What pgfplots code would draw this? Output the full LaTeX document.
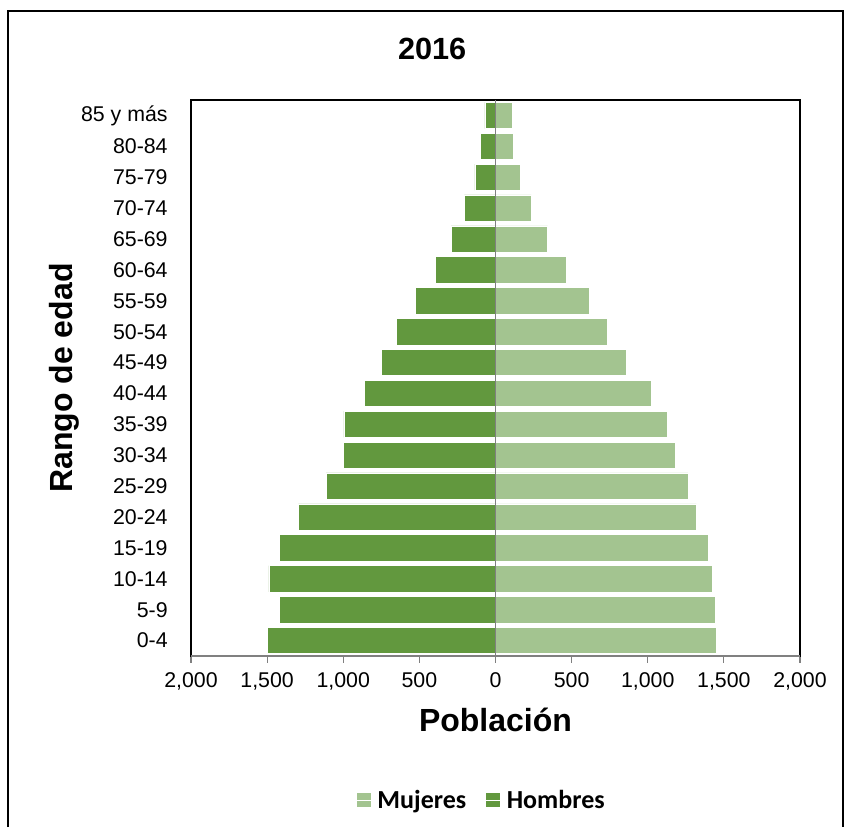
\documentclass[border=0pt]{standalone}
\usepackage{pgfplots}
\pgfplotsset{compat=1.18}
\usepackage{fontspec}
\setmainfont{Liberation Sans}
\newfontfamily\carlito{Carlito}
\definecolor{hom}{RGB}{98,152,62}
\definecolor{muj}{RGB}{163,196,144}
\begin{document}
\begin{tikzpicture}
\path (0pt,0pt) rectangle (633pt,-620.25pt);
\draw[black,line width=1.1pt] (6pt,-620.25pt) -- (6pt,-8.25pt) -- (632.25pt,-8.25pt) -- (632.25pt,-620.25pt);
\begin{axis}[
  at={(143.25pt,-492pt)}, anchor=south west,
  scale only axis, width=456.75pt, height=417pt,
  xmin=-2000, xmax=2000, ymin=-0.5, ymax=17.5,
  xbar, bar shift=0pt, bar width=0.85,
  axis line style={black,line width=1.1pt},
  xtick={-2000,-1500,...,2000},
  xtick pos=bottom, tick align=outside,
  major tick length=5pt,
  x tick style={gray,line width=0.8pt},
  ytick={0,...,17}, y tick style={draw=none},
  yticklabels={0-4,5-9,10-14,15-19,20-24,25-29,30-34,35-39,40-44,45-49,50-54,55-59,60-64,65-69,70-74,75-79,80-84,85 y más},
  /pgf/number format/assume math mode=true,
  xticklabel={\pgfmathparse{abs(\tick)}\pgfmathprintnumber[fixed,precision=0,1000 sep={,}]{\pgfmathresult}},
  ticklabel style={font=\fontsize{16}{18}\selectfont},
  xticklabel style={yshift=-4pt},
  yticklabel style={xshift=-9pt},
  xlabel={Población}, ylabel={Rango de edad},
  label style={font=\fontsize{24}{28}\selectfont\bfseries},
  xlabel style={at={(axis description cs:0.5,-0.115)},anchor=center},
  ylabel style={at={(axis description cs:-0.2085,0.5)},anchor=center},
  title={2016},
  title style={font=\fontsize{23}{27}\selectfont\bfseries,at={(axis description cs:0.396,1.077)},anchor=center},
  legend columns=2,
  legend style={draw=none,fill=none,at={(axis description cs:0.477,-0.259)},anchor=center,
    font=\fontsize{19.5}{22}\selectfont\carlito\bfseries,
    /tikz/every even column/.append style={column sep=12pt}},
  legend image code/.code={\fill[#1] (0pt,-5.6pt) rectangle (11.25pt,5.6pt);\path (0pt,0pt) -- (14pt,0pt);},
]
\addplot[fill=muj,draw=white,line width=0.4pt] coordinates {
(1452,0) (1444,1) (1422,2) (1399,3) (1319,4) (1264,5) (1179,6) (1126,7) (1023,8) (856,9) (731,10) (617,11) (466,12) (342,13) (236,14) (164,15) (117,16) (109,17)};
\addlegendentry{Mujeres}
\addplot[fill=hom,draw=white,line width=0.4pt] coordinates {
(-1499,0) (-1420,1) (-1489,2) (-1420,3) (-1295,4) (-1113,5) (-999,6) (-996,7) (-861,8) (-750,9) (-652,10) (-525,11) (-397,12) (-291,13) (-204,14) (-135,15) (-98,16) (-69,17)};
\addlegendentry{Hombres}
\draw[gray,line width=0.6pt] (axis cs:0,-0.5) -- (axis cs:0,17.5);
\draw[gray,line width=1.5pt] (rel axis cs:0,0) -- (rel axis cs:1,0);
\end{axis}
\end{tikzpicture}
\end{document}
